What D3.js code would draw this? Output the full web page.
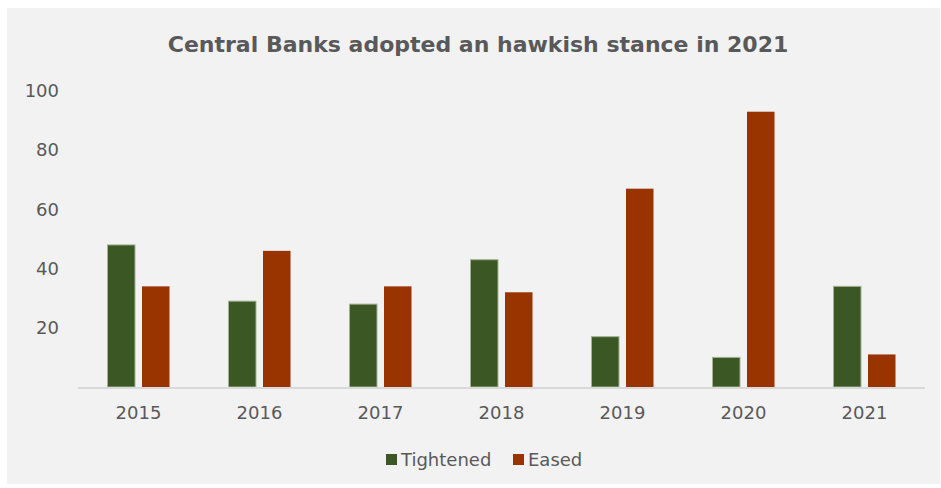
<!DOCTYPE html>
<html>
<head>
<meta charset="utf-8">
<script src="https://cdn.jsdelivr.net/npm/d3@7"></script>
<style>
  html, body { margin: 0; padding: 0; background: #ffffff; }
  svg { display: block; }
  text { font-family: "DejaVu Sans", Verdana, sans-serif; fill: #595959; }
</style>
</head>
<body>
<svg id="chart" width="941" height="488"></svg>
<script>
// Number of central banks that tightened / eased policy each year
const years = ["2015", "2016", "2017", "2018", "2019", "2020", "2021"];
const tightened = [48, 29, 28, 43, 17, 10, 34];
const eased = [34, 46, 34, 32, 67, 93, 11];
const seriesNames = ["Tightened", "Eased"];
const seriesColors = ["#3b5724", "#993300"];
const yTicks = [20, 40, 60, 80, 100];
const titleText = "Central Banks adopted an hawkish stance in 2021";

const rows = years.map((y, i) => ({ year: y, values: [tightened[i], eased[i]] }));

const svg = d3.select("#chart");

// panel background
svg.append("rect")
  .attr("x", 7).attr("y", 8)
  .attr("width", 933).attr("height", 476)
  .attr("fill", "#f2f2f2");

const x0 = d3.scaleBand().domain(years).range([78, 925]).padding(0);
const x1 = d3.scaleBand().domain(seriesNames).range([0, x0.bandwidth()])
  .paddingInner(0.203).paddingOuter(0.855);
const y = d3.scaleLinear().domain([0, 100]).range([387, 91]);
const color = d3.scaleOrdinal().domain(seriesNames).range(seriesColors);

// title
svg.append("text")
  .attr("x", 478).attr("y", 52)
  .attr("text-anchor", "middle")
  .style("font-size", "22px")
  .style("font-weight", "bold")
  .text(titleText);

// y axis labels (no line, no ticks)
const yAxis = d3.axisLeft(y).tickValues(yTicks).tickSize(0).tickPadding(0);
const yG = svg.append("g").attr("transform", "translate(59,0)").call(yAxis);
yG.select(".domain").remove();
yG.selectAll("text")
  .style("font-size", "18px")
  .style("font-family", "\"DejaVu Sans\", Verdana, sans-serif")
  .attr("fill", "#595959");

// bars
const groups = svg.append("g").selectAll("g")
  .data(rows).join("g")
  .attr("transform", d => `translate(${x0(d.year)},0)`);

groups.selectAll("rect")
  .data(d => d.values.map((v, i) => ({ key: seriesNames[i], value: v })))
  .join("rect")
  .attr("x", d => x1(d.key))
  .attr("y", d => y(d.value))
  .attr("width", x1.bandwidth())
  .attr("height", d => y(0) - y(d.value))
  .attr("fill", d => color(d.key))
  .attr("stroke", d => d.key === "Tightened" ? "#a3b294" : "none")
  .attr("stroke-width", 1);

// baseline
svg.append("line")
  .attr("x1", 78).attr("x2", 925)
  .attr("y1", y(0) + 1).attr("y2", y(0) + 1)
  .attr("stroke", "#d9d9d9").attr("stroke-width", 2);

// x axis labels
const xAxis = d3.axisBottom(x0).tickSize(0).tickPadding(0);
const xG = svg.append("g").attr("transform", "translate(0,406)").call(xAxis);
xG.select(".domain").remove();
xG.selectAll("text")
  .style("font-size", "18px")
  .style("font-family", "\"DejaVu Sans\", Verdana, sans-serif")
  .attr("fill", "#595959")
  .attr("dy", "0.71em");

// legend
const legendItems = [
  { name: seriesNames[0], sx: 386, tx: 401 },
  { name: seriesNames[1], sx: 513, tx: 528 }
];
const lg = svg.append("g");
lg.selectAll("rect").data(legendItems).join("rect")
  .attr("x", d => d.sx).attr("y", 454)
  .attr("width", 11).attr("height", 11)
  .attr("fill", d => color(d.name));
lg.selectAll("text").data(legendItems).join("text")
  .attr("x", d => d.tx).attr("y", 461)
  .attr("dominant-baseline", "middle")
  .style("font-size", "18px")
  .text(d => d.name);
</script>
</body>
</html>
